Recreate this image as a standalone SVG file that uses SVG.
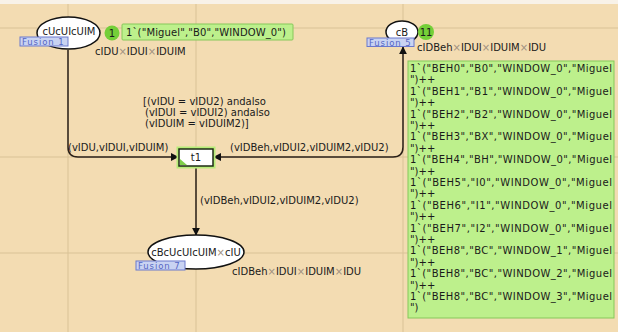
<svg xmlns="http://www.w3.org/2000/svg" width="618" height="332" viewBox="0 0 618 332">
<defs>
<marker id="ah" viewBox="0 0 10 10" refX="9" refY="5" markerWidth="8" markerHeight="8" markerUnits="userSpaceOnUse" orient="auto-start-reverse">
<path d="M0,0 L10,5 L0,10 z" fill="#111"/>
</marker>
<style>
text{font-family:"DejaVu Sans","Liberation Sans",sans-serif;font-size:10px;fill:#1a1a1a}
.grid{stroke:#d9c296;stroke-width:1;fill:none}
.place{fill:#fff;stroke:#111;stroke-width:1.5}
.fus{fill:#c9d3f2;stroke:#6a78cc;stroke-width:1}
.fust{fill:#5566c4;font-size:8.5px;letter-spacing:0.9px}
.cnt{fill:#74cf38}
.tok{fill:#bdf08c;stroke:#86c85a;stroke-width:1}
.arc{fill:none;stroke:#2a2018;stroke-width:1.5}
.x{fill:#a09080}
</style>
</defs>
<rect x="0" y="0" width="618" height="332" fill="#f3dcb2"/>
<rect x="0" y="0" width="618" height="4" fill="#f8f2e8"/>
<g id="grid">
<line class="grid" x1="68" y1="4" x2="68" y2="332"/>
<line class="grid" x1="196" y1="4" x2="196" y2="332"/>
<line class="grid" x1="403" y1="4" x2="403" y2="332"/>
<line class="grid" x1="0" y1="28" x2="618" y2="28"/>
<line class="grid" x1="0" y1="157" x2="618" y2="157"/>
<line class="grid" x1="0" y1="253" x2="618" y2="253"/>
</g>
<g id="connectors">
<path class="arc" d="M68,50 L68,147 Q68,157 78,157 L178,157" marker-end="url(#ah)"/>
<path class="arc" d="M214,157 L393,157 Q403,157 403,147 L403,47" marker-start="url(#ah)" marker-end="url(#ah)"/>
<path class="arc" d="M196,167 L196,235" marker-end="url(#ah)"/>
<text x="68" y="151">(vIDU,vIDUI,vIDUIM)</text>
<text x="230" y="151">(vIDBeh,vIDUI2,vIDUIM2,vIDU2)</text>
<text x="200" y="204">(vIDBeh,vIDUI2,vIDUIM2,vIDU2)</text>
</g>
<g id="t1">
<rect x="179" y="149" width="34" height="17" fill="none" stroke="#b6ec78" stroke-width="5"/>
<rect x="179" y="149" width="34" height="17" fill="#fff" stroke="#1e2a14" stroke-width="1.5"/>
<path d="M180,165 L180,159 L187,165 z" fill="#7fcf4a"/>
<text x="196" y="161" text-anchor="middle">t1</text>
<text x="143" y="105">[(vIDU = vIDU2) andalso</text>
<text x="145" y="116">(vIDUI = vIDUI2) andalso</text>
<text x="145" y="127">(vIDUIM = vIDUIM2)]</text>
</g>
<g id="cUcUIcUIM">
<ellipse class="place" cx="68.5" cy="33" rx="31.5" ry="16"/>
<text x="69" y="35" text-anchor="middle">cUcUIcUIM</text>
<rect class="fus" x="20" y="37" width="48" height="9"/>
<text class="fust" x="22" y="44.5">Fusion 1</text>
<text x="95" y="55">cIDU<tspan class="x">×</tspan>IDUI<tspan class="x">×</tspan>IDUIM</text>
<circle class="cnt" cx="112" cy="33" r="7.5"/>
<text x="112" y="36.5" text-anchor="middle">1</text>
<rect class="tok" x="122" y="24" width="171" height="16" rx="1"/>
<text x="126" y="36" textLength="160" lengthAdjust="spacing">1`("Miguel","B0","WINDOW_0")</text>
</g>
<g id="cB">
<ellipse class="place" cx="402" cy="32" rx="16" ry="11"/>
<text x="402" y="35.5" text-anchor="middle">cB</text>
<rect class="fus" x="367" y="38" width="47" height="8.5"/>
<text class="fust" x="369" y="45.5">Fusion 5</text>
<circle class="cnt" cx="426" cy="32" r="8"/>
<text x="426" y="35.5" text-anchor="middle">11</text>
<text x="417" y="51">cIDBeh<tspan class="x">×</tspan>IDUI<tspan class="x">×</tspan>IDUIM<tspan class="x">×</tspan>IDU</text>
<rect class="tok" x="408" y="61" width="206" height="257"/>
<g>
<text x="410" y="72" textLength="202" lengthAdjust="spacing">1`("BEH0","B0","WINDOW_0","Miguel</text>
<text x="410" y="83.4">")++</text>
<text x="410" y="94.8" textLength="202" lengthAdjust="spacing">1`("BEH1","B1","WINDOW_0","Miguel</text>
<text x="410" y="106.2">")++</text>
<text x="410" y="117.6" textLength="202" lengthAdjust="spacing">1`("BEH2","B2","WINDOW_0","Miguel</text>
<text x="410" y="129">")++</text>
<text x="410" y="140.4" textLength="202" lengthAdjust="spacing">1`("BEH3","BX","WINDOW_0","Miguel</text>
<text x="410" y="151.8">")++</text>
<text x="410" y="163.2" textLength="202" lengthAdjust="spacing">1`("BEH4","BH","WINDOW_0","Miguel</text>
<text x="410" y="174.6">")++</text>
<text x="410" y="186" textLength="202" lengthAdjust="spacing">1`("BEH5","I0","WINDOW_0","Miguel</text>
<text x="410" y="197.4">")++</text>
<text x="410" y="208.8" textLength="202" lengthAdjust="spacing">1`("BEH6","I1","WINDOW_0","Miguel</text>
<text x="410" y="220.2">")++</text>
<text x="410" y="231.6" textLength="202" lengthAdjust="spacing">1`("BEH7","I2","WINDOW_0","Miguel</text>
<text x="410" y="243">")++</text>
<text x="410" y="254.4" textLength="202" lengthAdjust="spacing">1`("BEH8","BC","WINDOW_1","Miguel</text>
<text x="410" y="265.8">")++</text>
<text x="410" y="277.2" textLength="202" lengthAdjust="spacing">1`("BEH8","BC","WINDOW_2","Miguel</text>
<text x="410" y="288.6">")++</text>
<text x="410" y="300" textLength="202" lengthAdjust="spacing">1`("BEH8","BC","WINDOW_3","Miguel</text>
<text x="410" y="311.4">")</text>
</g>
</g>
<g id="cBcUcUIcUIMxcIU">
<ellipse class="place" cx="196" cy="252" rx="48" ry="17"/>
<text x="196" y="255.5" text-anchor="middle">cBcUcUIcUIM<tspan class="x">×</tspan>cIU</text>
<rect class="fus" x="136" y="261" width="49" height="9"/>
<text class="fust" x="138" y="268.5">Fusion 7</text>
<text x="232" y="275">cIDBeh<tspan class="x">×</tspan>IDUI<tspan class="x">×</tspan>IDUIM<tspan class="x">×</tspan>IDU</text>
</g>
</svg>
